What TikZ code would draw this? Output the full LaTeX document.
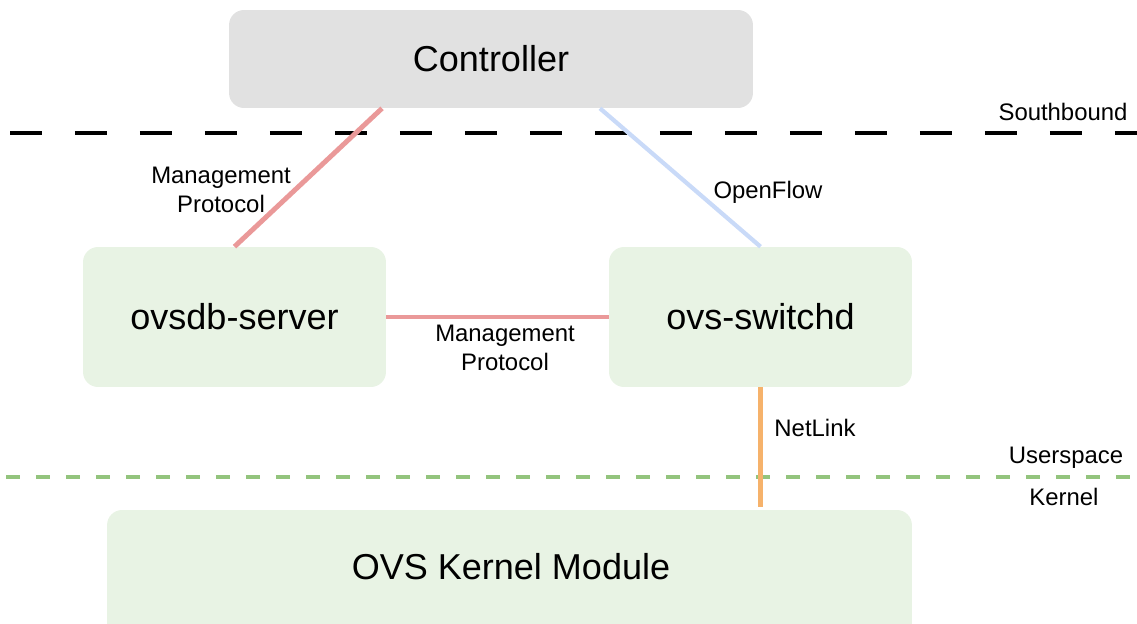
\documentclass[tikz,border=0pt]{standalone}
\usepackage{fontspec}
\setmainfont{Liberation Sans}
\usetikzlibrary{calc}
\definecolor{boxgray}{HTML}{E1E1E1}
\definecolor{boxgreen}{HTML}{E8F3E4}
\definecolor{mgmtred}{HTML}{EA9999}
\definecolor{ofblue}{HTML}{C9DAF8}
\definecolor{nlorange}{HTML}{F6B26B}
\definecolor{sepgreen}{HTML}{93C47D}
\tikzset{
  comp/.style={rounded corners=0.3cm, inner sep=0pt, font=\fontsize{20.5}{24}\selectfont},
  lbl/.style={font=\fontsize{13.6}{16.5}\selectfont, align=center, inner sep=0pt},
  mgmt/.style={draw=mgmtred, line width=2.8pt},
}
\begin{document}
\begin{tikzpicture}[x=0.02cm,y=-0.02cm]
\useasboundingbox (0,0) rectangle (1137,624);
\clip (0,0) rectangle (1137,624);
% separators
\draw[line width=2.7pt, dash pattern=on 0.64cm off 0.66cm] (10,133) -- (1137,133);
\draw[sepgreen, line width=2.6pt, dash pattern=on 0.28cm off 0.32cm] (6,477) -- (1137,477);
\node[lbl] (sb) at (1063,112) {Southbound};
\node[lbl] (us) at (1066,458) {Userspace};
\node[lbl] (kn) at (1064,497) {Kernel};
% components
\node[comp, fill=boxgray, minimum width=10.48cm, minimum height=1.96cm] (ctrl) at (491,59) {Controller};
\node[comp, fill=boxgreen, minimum width=6.06cm, minimum height=2.8cm] (db) at (234.5,317) {ovsdb-server};
\node[comp, fill=boxgreen, minimum width=6.06cm, minimum height=2.8cm] (sw) at (760.5,317) {ovs-switchd};
\node[comp, fill=boxgreen, minimum width=16.1cm, minimum height=3.2cm] (km) at (509.5,590) {};
\node[font=\fontsize{20.5}{24}\selectfont] (kmt) at (511,567) {OVS Kernel Module};
% connectors
\draw[mgmt] ([xshift=-2.18cm]ctrl.south) -- (db.north);
\draw[ofblue, line width=2.4pt] ([xshift=2.18cm]ctrl.south) -- (sw.north);
\draw[mgmt] (db.east) -- (sw.west);
\draw[nlorange, line width=2.8pt] (sw.south) -- ($(sw.south |- km.north)+(0,-3)$);
% labels
\node[lbl] (l1) at (221,190) {Management\\Protocol};
\node[lbl] (l2) at (768,192) {OpenFlow};
\node[lbl] (l3) at (505,348) {Management\\Protocol};
\node[lbl] (l4) at (815,428) {NetLink};
\end{tikzpicture}
\end{document}
